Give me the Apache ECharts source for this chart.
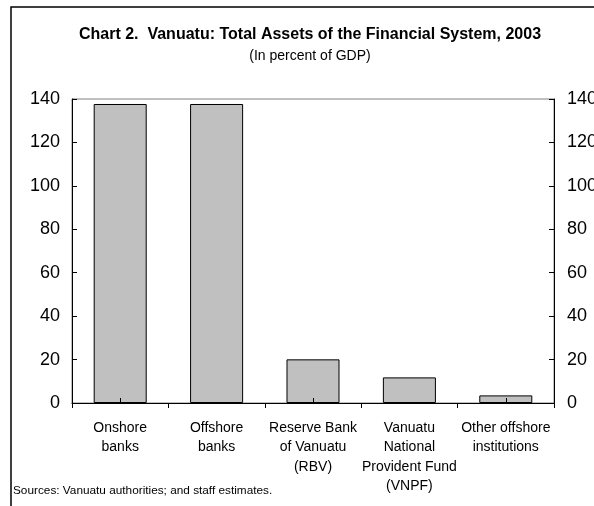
<!DOCTYPE html>
<html>
<head>
<meta charset="utf-8">
<script src="https://cdn.jsdelivr.net/npm/echarts@6/dist/echarts.min.js"></script>
<style>
html,body{margin:0;padding:0;background:#fff;}
#chart{width:594px;height:506px;}
</style>
</head>
<body>
<div id="chart"></div>
<script>
var titleText = 'Chart 2.  Vanuatu: Total Assets of the Financial System, 2003';
var subtitleText = '(In percent of GDP)';
var sourceText = 'Sources: Vanuatu authorities; and staff estimates.';
var categories = ['Onshore\nbanks', 'Offshore\nbanks', 'Reserve Bank\nof Vanuatu\n(RBV)', 'Vanuatu\nNational\nProvident Fund\n(VNPF)', 'Other offshore\ninstitutions'];
var assets = [137.7, 137.7, 20.1, 11.8, 3.5];
var yMin = 0, yMax = 140, yStep = 20;

var FONT = '"Liberation Sans", Arial, sans-serif';
var chart = echarts.init(document.getElementById('chart'), null, {renderer: 'canvas'});
var yAxisCommon = {
  type: 'value', min: yMin, max: yMax, interval: yStep,
  splitLine: {show: false},
  axisLine: {show: true, lineStyle: {color: '#000', width: 1}},
  axisTick: {show: true, inside: true, length: 5, lineStyle: {color: '#000'}},
  axisLabel: {color: '#000', fontFamily: FONT, fontSize: 18, margin: 12}
};
chart.setOption({
  animation: false,
  backgroundColor: '#fff',
  grid: {left: 72, right: 40, top: 99, bottom: 103, outerBoundsMode: 'none', containLabel: false, show: true, borderColor: '#808080', borderWidth: 1, backgroundColor: 'transparent'},
  xAxis: [{
    type: 'category', data: categories, position: 'bottom',
    axisLine: {show: true, lineStyle: {color: '#000', width: 1}},
    axisTick: {show: true, inside: false, length: 5, lineStyle: {color: '#000'}},
    axisLabel: {color: '#000', fontFamily: FONT, fontSize: 14, lineHeight: 19.5, margin: 15, interval: 0}
  }, {
    type: 'category', data: categories, position: 'bottom', z: 5,
    axisLine: {show: false},
    axisTick: {show: true, inside: true, alignWithLabel: true, length: 5, lineStyle: {color: '#000'}},
    axisLabel: {show: false}
  }],
  yAxis: [
    Object.assign({}, yAxisCommon, {position: 'left'}),
    Object.assign({}, yAxisCommon, {position: 'right', axisLabel: Object.assign({}, yAxisCommon.axisLabel, {margin: 13})})
  ],
  series: [{
    type: 'bar', data: assets, xAxisIndex: 0, yAxisIndex: 0,
    barWidth: '55%',
    itemStyle: {color: '#c0c0c0', borderColor: '#000', borderWidth: 1}
  }],
  graphic: [
    {type: 'rect', shape: {x: 11, y: 7, width: 800, height: 800}, style: {fill: 'none', stroke: '#000', lineWidth: 1.5}, z: 100},
    {type: 'text', x: 310, y: 35, style: {text: titleText, fontFamily: FONT, fontSize: 16, fontWeight: 'bold', fill: '#000', textAlign: 'center', textVerticalAlign: 'middle'}},
    {type: 'text', x: 310, y: 56, style: {text: subtitleText, fontFamily: FONT, fontSize: 14, fill: '#000', textAlign: 'center', textVerticalAlign: 'middle'}},
    {type: 'text', x: 13, y: 491, style: {text: sourceText, fontFamily: FONT, fontSize: 11.8, fill: '#000', textAlign: 'left', textVerticalAlign: 'middle'}}
  ]
});
</script>
</body>
</html>
